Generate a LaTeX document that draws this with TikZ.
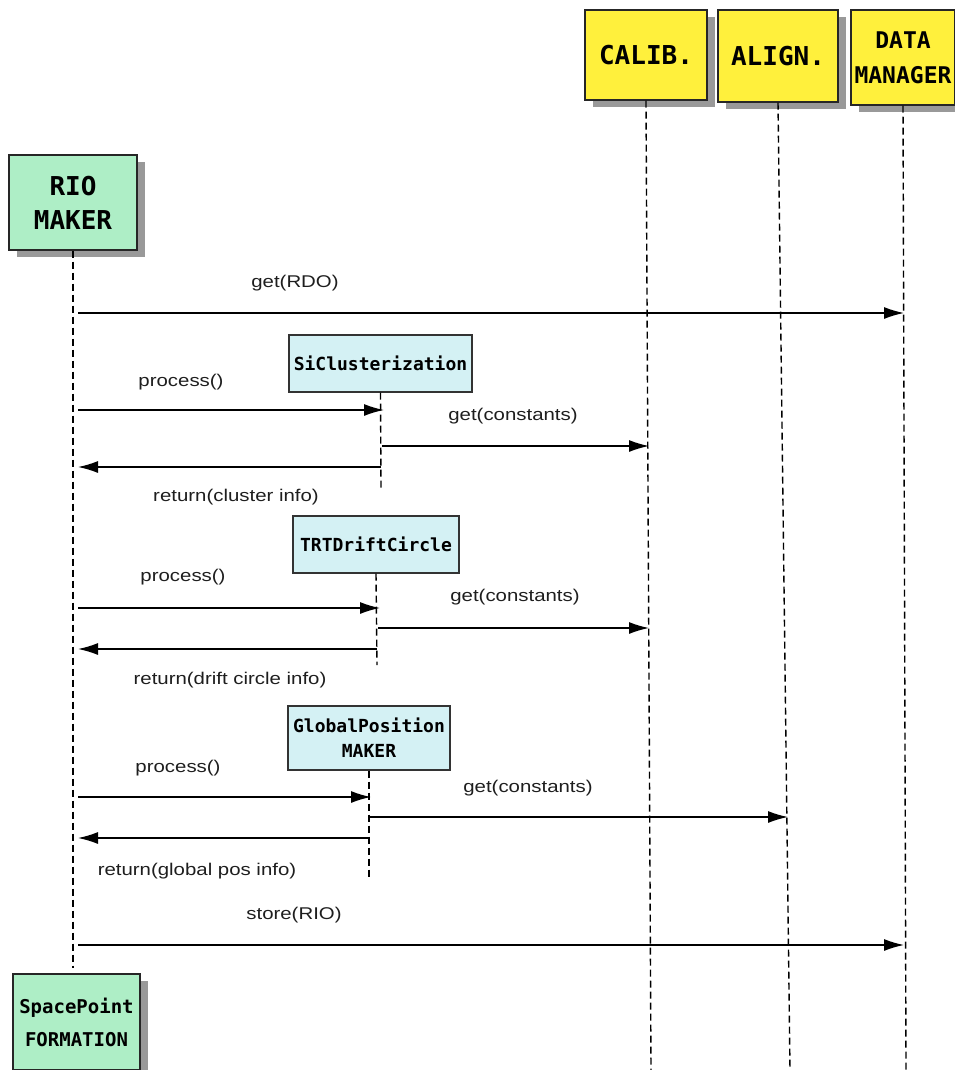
\documentclass[tikz,border=0pt]{standalone}
\usepackage{fontspec}
\setmainfont{Liberation Sans}
\newfontfamily\lblfont[FakeStretch=1.2]{Liberation Sans}
\newfontfamily\boxmono{DejaVu Sans Mono}
\usetikzlibrary{arrows.meta,shadows}
\definecolor{actyellow}{HTML}{FFF03C}
\definecolor{actgreen}{HTML}{AEEEC6}
\definecolor{objcyan}{HTML}{D4F1F4}
\definecolor{lbltext}{HTML}{1E1E1E}
\begin{document}
\begin{tikzpicture}[x=1pt,y=-1pt,
  actor/.style={draw=black!85, line width=1.2pt, align=center, inner sep=0pt,
    drop shadow={shadow xshift=8pt, shadow yshift=-7pt, fill=black!40, opacity=1}},
  bigactor/.style={actor, fill=actyellow, font=\boxmono\bfseries\fontsize{26}{35}\selectfont},
  greenactor/.style={actor, fill=actgreen},
  obj/.style={draw=black!80, line width=1.1pt, fill=objcyan, align=center, inner sep=0pt,
    font=\boxmono\bfseries\fontsize{18}{25}\selectfont},
  life/.style={line width=1.4pt, dash pattern=on 7pt off 4pt},
  msg/.style={line width=1.4pt, -{Latex[length=20pt,width=12pt]}},
  lbl/.style={font=\lblfont\fontsize{17}{20}\selectfont, text=lbltext, inner sep=0pt}
]
\useasboundingbox (0,0) rectangle (954,1070);

% lifeline actors
\node[bigactor, minimum width=122pt, minimum height=90pt] (calib) at (646,55) {CALIB.};
\node[bigactor, minimum width=120pt, minimum height=92pt] (align) at (778,56) {ALIGN.};
\node[bigactor, minimum width=104pt, minimum height=95pt, font=\boxmono\bfseries\fontsize{23}{35}\selectfont] (dm) at (903,57.5) {DATA\\MANAGER};
\node[greenactor, minimum width=128pt, minimum height=95pt, font=\boxmono\bfseries\fontsize{26}{34}\selectfont] (rio) at (73,202.5) {RIO\\MAKER};
\node[greenactor, minimum width=127pt, minimum height=96pt, font=\boxmono\bfseries\fontsize{19}{33}\selectfont] (sp) at (76.5,1022) {SpacePoint\\FORMATION};

% objects
\node[obj, minimum width=183pt, minimum height=57pt] (si) at (380.5,363.5) {SiClusterization};
\node[obj, minimum width=166pt, minimum height=57pt] (trt) at (376,544.5) {TRTDriftCircle};
\node[obj, minimum width=162pt, minimum height=64pt] (gp) at (369,738) {GlobalPosition\\MAKER};

% lifeline ends
\coordinate (rioB) at (73,968);
\coordinate (calibB) at (651,1070);
\coordinate (alignB) at (790,1070);
\coordinate (dmB) at (906,1070);
\coordinate (siB) at (381,490);
\coordinate (trtB) at (377,665);
\coordinate (gpB) at (369,877);

\draw[life] (rio.south) -- (rioB);
\draw[life] (calib.south) -- (calibB);
\draw[life] (align.south) -- (alignB);
\draw[life] (dm.south) -- (dmB);
\draw[life] (si.south) -- (siB);
\draw[life] (trt.south) -- (trtB);
\draw[life] (gp.south) -- (gpB);

% message end points
\coordinate (m1a) at (78,313);  \coordinate (m1b) at (904,313);
\coordinate (m2a) at (78,410);  \coordinate (m2b) at (384,410);
\coordinate (m3a) at (382,446); \coordinate (m3b) at (649,446);
\coordinate (m4a) at (381,467); \coordinate (m4b) at (78,467);
\coordinate (m5a) at (78,608);  \coordinate (m5b) at (380,608);
\coordinate (m6a) at (378,628); \coordinate (m6b) at (649,628);
\coordinate (m7a) at (377,649); \coordinate (m7b) at (78,649);
\coordinate (m8a) at (78,797);  \coordinate (m8b) at (371,797);
\coordinate (m9a) at (369,817); \coordinate (m9b) at (788,817);
\coordinate (m10a) at (369,838); \coordinate (m10b) at (78,838);
\coordinate (m11a) at (78,945); \coordinate (m11b) at (904,945);

\draw[msg] (m1a) -- (m1b);
\draw[msg] (m2a) -- (m2b);
\draw[msg] (m3a) -- (m3b);
\draw[msg] (m4a) -- (m4b);
\draw[msg] (m5a) -- (m5b);
\draw[msg] (m6a) -- (m6b);
\draw[msg] (m7a) -- (m7b);
\draw[msg] (m8a) -- (m8b);
\draw[msg] (m9a) -- (m9b);
\draw[msg] (m10a) -- (m10b);
\draw[msg] (m11a) -- (m11b);

% labels
\node[lbl] (l1) at (295,283) {get(RDO)};
\node[lbl] (l2) at (181,382) {process()};
\node[lbl] (l3) at (513,416) {get(constants)};
\node[lbl] (l4) at (236,497) {return(cluster info)};
\node[lbl] (l5) at (183,577) {process()};
\node[lbl] (l6) at (515,597) {get(constants)};
\node[lbl] (l7) at (230,680) {return(drift circle info)};
\node[lbl] (l8) at (178,768) {process()};
\node[lbl] (l9) at (528,788) {get(constants)};
\node[lbl] (l10) at (197,871) {return(global pos info)};
\node[lbl] (l11) at (294,915) {store(RIO)};
\end{tikzpicture}
\end{document}
